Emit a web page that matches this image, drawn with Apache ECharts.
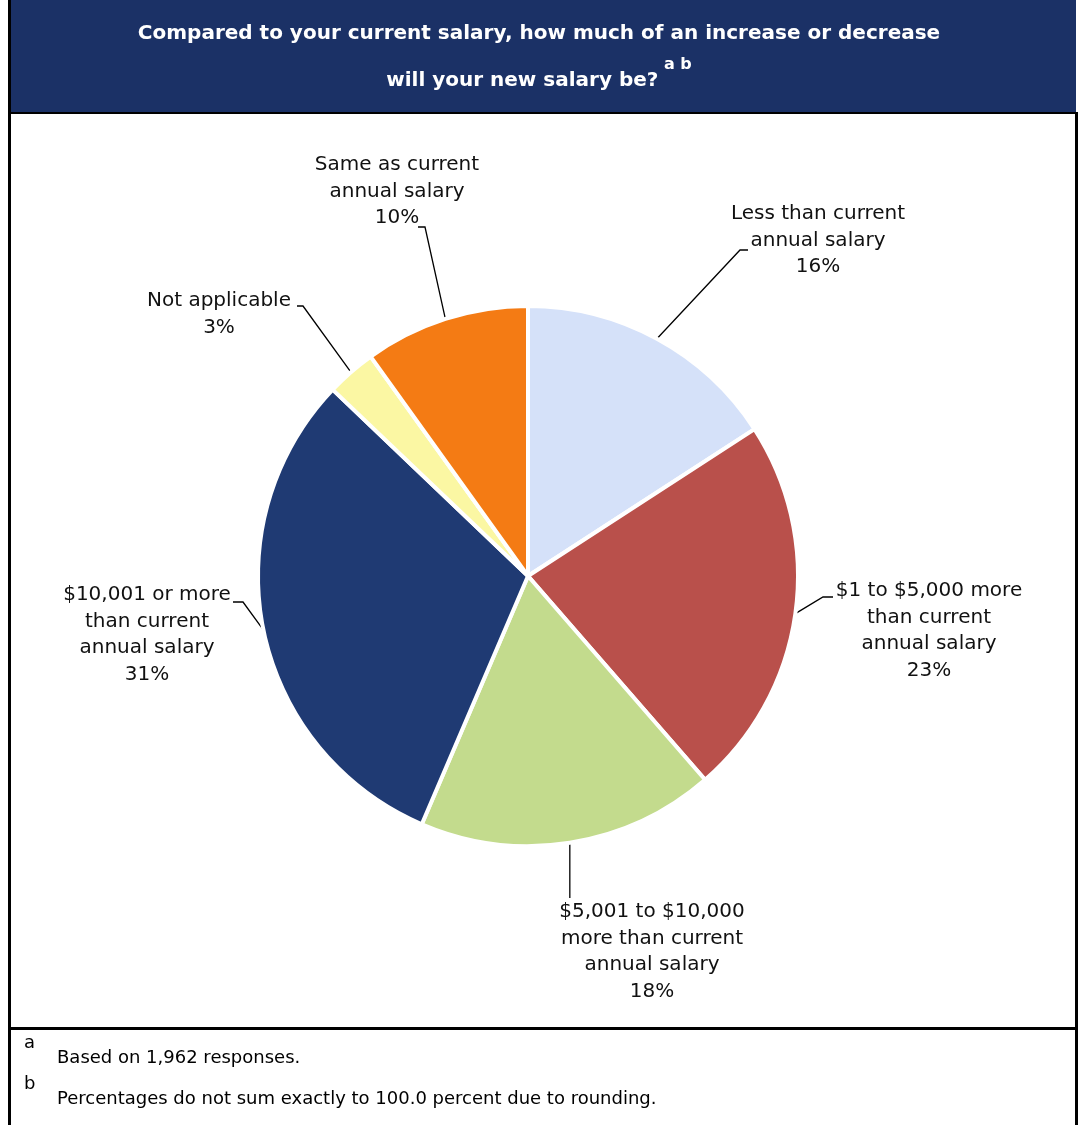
<!DOCTYPE html>
<html>
<head>
<meta charset="utf-8">
<script src="https://cdn.jsdelivr.net/npm/echarts@6/dist/echarts.min.js"></script>
<style>
  html, body { margin: 0; padding: 0; background: #fff; }
  #chart { width: 1078px; height: 1125px; }
</style>
</head>
<body>
<div id="chart"></div>
<script>
// slices, clockwise from 12 o'clock
const categories = [
  'Less than current\nannual salary',
  '$1 to $5,000 more\nthan current\nannual salary',
  '$5,001 to $10,000\nmore than current\nannual salary',
  '$10,001 or more\nthan current\nannual salary',
  'Not applicable',
  'Same as current\nannual salary',
]
const percents = [16, 23, 18, 31, 3, 10]
const sliceColors = ['#D5E1F9', '#B9504B', '#C3DB8D', '#1F3A73', '#FBF7A3', '#F47B14']

const titleLines = [
  'Compared to your current salary, how much of an increase or decrease',
  'will your new salary be?',
]
const titleMarks = 'a b'
const footnotes = [
  ['a', 'Based on 1,962 responses.'],
  ['b', 'Percentages do not sum exactly to 100.0 percent due to rounding.'],
]

// where each label sits (centre x, top y) and the bend/end of its leader line
// a null x in a line point means "straight down from the slice edge"
const labelSpots = [
  { x: 818, y: 201, line: [[740, 250], [748, 250]] },
  { x: 929, y: 578, line: [[823, 597], [833, 597]] },
  { x: 652, y: 899, line: [[null, 898]] },
  { x: 147, y: 582, line: [[243, 602], [233, 602]] },
  { x: 219, y: 288, line: [[303, 306], [297, 306]] },
  { x: 397, y: 152, line: [[425, 227], [418, 227]] },
]

const chart = echarts.init(document.getElementById('chart'), null, { renderer: 'canvas' })

const font = 'DejaVu Sans'

chart.setOption({
  animation: false,
  backgroundColor: '#fff',
  title: {
    left: 'center',
    top: 10,
    padding: 0,
    text: '{t|' + titleLines[0] + '}\n{t|' + titleLines[1] + '}{s| ' + titleMarks + '}',
    textStyle: {
      rich: {
        t: { color: '#fff', fontFamily: font, fontWeight: 'bold', fontSize: 20, lineHeight: 47 },
        s: { color: '#fff', fontFamily: font, fontWeight: 'bold', fontSize: 16, lineHeight: 21, verticalAlign: 'top' },
      },
    },
  },
  graphic: [
    { type: 'rect', shape: { x: 10, y: 0, width: 1066, height: 112 }, style: { fill: '#1B3166' }, z: 0 },
    { type: 'rect', shape: { x: 8, y: 0, width: 3, height: 1125 }, style: { fill: '#000' }, z: 1 },
    { type: 'rect', shape: { x: 1075, y: 112, width: 3, height: 1013 }, style: { fill: '#000' }, z: 1 },
    { type: 'rect', shape: { x: 10, y: 112, width: 1066, height: 2 }, style: { fill: '#000' }, z: 1 },
    { type: 'rect', shape: { x: 10, y: 1027, width: 1068, height: 3 }, style: { fill: '#000' }, z: 1 },
    ...footnotes.flatMap((note, i) => [
      { type: 'text', x: 24, y: 1043 + i * 41, style: { text: note[0], fill: '#000', font: '18px "DejaVu Sans"', verticalAlign: 'middle' } },
      { type: 'text', x: 57, y: 1058 + i * 41, style: { text: note[1], fill: '#000', font: '18px "DejaVu Sans"', verticalAlign: 'middle' } },
    ]),
  ],
  series: [
    {
      type: 'pie',
      center: [528, 576],
      radius: 270,
      startAngle: 90,
      clockwise: true,
      avoidLabelOverlap: false,
      itemStyle: { borderColor: '#fff', borderWidth: 4 },
      label: {
        show: true,
        position: 'outside',
        color: '#111',
        fontFamily: font,
        fontSize: 20,
        lineHeight: 26.5,
        formatter: (p) => p.name + '\n' + p.value + '%',
      },
      labelLine: { show: true, lineStyle: { color: '#000', width: 1.3 } },
      labelLayout: (params) => {
        const spot = labelSpots[params.dataIndex]
        const p0 = params.labelLinePoints ? params.labelLinePoints[0] : [spot.x, spot.y]
        const rest = spot.line.map((pt) => [pt[0] == null ? p0[0] : pt[0], pt[1]])
        return {
          x: spot.x,
          y: spot.y,
          align: 'center',
          verticalAlign: 'top',
          labelLinePoints: [p0].concat(rest),
        }
      },
      emphasis: { disabled: true },
      data: categories.map((name, i) => ({
        name,
        value: percents[i],
        itemStyle: { color: sliceColors[i] },
      })),
    },
  ],
})
</script>
</body>
</html>
